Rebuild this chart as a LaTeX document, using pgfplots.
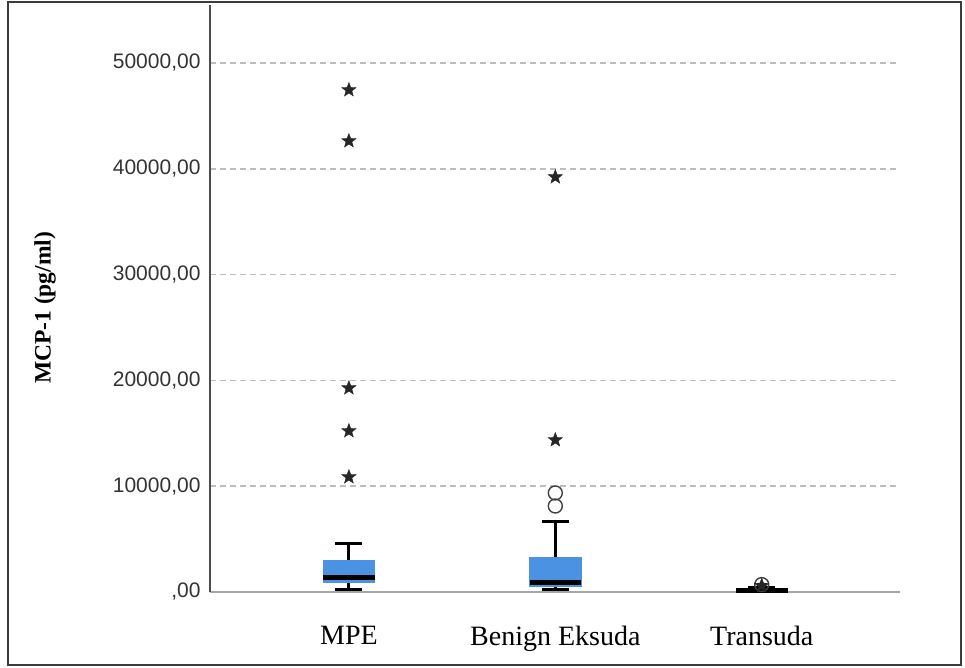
\documentclass[border=0pt]{standalone}
\usepackage{fontspec}
\setmainfont{Liberation Serif}
\newfontfamily\ticksans{Liberation Sans}
\usepackage{pgfplots}
\pgfplotsset{compat=1.18}
\usepgfplotslibrary{statistics}

\definecolor{boxblue}{RGB}{76,146,226}
\definecolor{framegray}{RGB}{60,60,60}
\definecolor{gridgray}{RGB}{190,190,190}

% filled five-pointed star for extreme values
\pgfdeclareplotmark{fstar}{%
  \pgfpathmoveto{\pgfpointpolar{90}{\pgfplotmarksize}}%
  \pgfpathlineto{\pgfpointpolar{126}{0.42\pgfplotmarksize}}%
  \pgfpathlineto{\pgfpointpolar{162}{\pgfplotmarksize}}%
  \pgfpathlineto{\pgfpointpolar{198}{0.42\pgfplotmarksize}}%
  \pgfpathlineto{\pgfpointpolar{234}{\pgfplotmarksize}}%
  \pgfpathlineto{\pgfpointpolar{270}{0.42\pgfplotmarksize}}%
  \pgfpathlineto{\pgfpointpolar{306}{\pgfplotmarksize}}%
  \pgfpathlineto{\pgfpointpolar{342}{0.42\pgfplotmarksize}}%
  \pgfpathlineto{\pgfpointpolar{18}{\pgfplotmarksize}}%
  \pgfpathlineto{\pgfpointpolar{54}{0.42\pgfplotmarksize}}%
  \pgfpathclose
  \pgfusepathqfillstroke}

\begin{document}
\begin{tikzpicture}
\useasboundingbox (0,0) rectangle (965pt,668pt);
\draw[framegray, line width=1.8pt] (8pt,3pt) rectangle (961pt,666pt);
\begin{axis}[
  at={(210pt,76pt)}, anchor=south west,
  scale only axis, width=690pt, height=587pt,
  xmin=0.327, xmax=3.67, ymin=0, ymax=55480,
  axis x line*=bottom, axis y line*=left,
  x axis line style={-, draw=gray!70, line width=2.5pt},
  y axis line style={-, draw=black!70, line width=1.4pt},
  major tick length=0pt,
  xtick={1,2,3},
  xticklabels={MPE, Benign Eksuda, Transuda},
  xticklabel style={font=\fontsize{28}{32}\selectfont, yshift=-31pt},
  ytick={0,10000,20000,30000,40000,50000},
  scaled y ticks=false,
  yticklabels={{,00},{10000,00},{20000,00},{30000,00},{40000,00},{50000,00}},
  yticklabel style={font=\ticksans\fontsize{21}{25}\selectfont, text=black!80, xshift=-6pt},
  ymajorgrids,
  grid style={gridgray, line width=1.5pt, dash pattern=on 6pt off 4pt},
  ylabel={\bfseries MCP-1 (pg/ml)},
  ylabel style={font=\fontsize{23.5}{28}\selectfont, at={(rel axis cs:-0.239,0.484)}, anchor=center},
  boxplot/draw direction=y,
  boxplot/box extend=0.25,
  boxplot/whisker extend=0.13,
  boxplot/every box/.style={fill=boxblue, draw=boxblue, line width=0.8pt},
  boxplot/every median/.style={black, line width=5pt},
  boxplot/every whisker/.style={black, line width=3pt},
  clip=false,
]
% MPE
\addplot[black, boxplot prepared={draw position=1,
  lower whisker=280, lower quartile=950, median=1380,
  upper quartile=3030, upper whisker=4630}] coordinates {};
% Benign Eksuda
\addplot[black, boxplot prepared={draw position=2,
  lower whisker=190, lower quartile=570, median=920,
  upper quartile=3290, upper whisker=6710}] coordinates {};
% Transuda
\addplot[black, boxplot prepared={draw position=3,
  lower whisker=20, lower quartile=60, median=140,
  upper quartile=260, upper whisker=380}] coordinates {};

% outliers
\addplot[only marks, mark=o, mark size=7pt, draw=black!75, line width=1.4pt]
  coordinates {(2,9360) (2,8130) (3,700)};
% extreme values
\addplot[only marks, mark=fstar, mark size=7.5pt, fill=black!85, draw=black!85, line width=0.4pt]
  coordinates {(1,47450) (1,42630) (1,19280) (1,15220) (1,10870)
               (2,39220) (2,14370) (3,600)};
\end{axis}
\end{tikzpicture}
\end{document}
